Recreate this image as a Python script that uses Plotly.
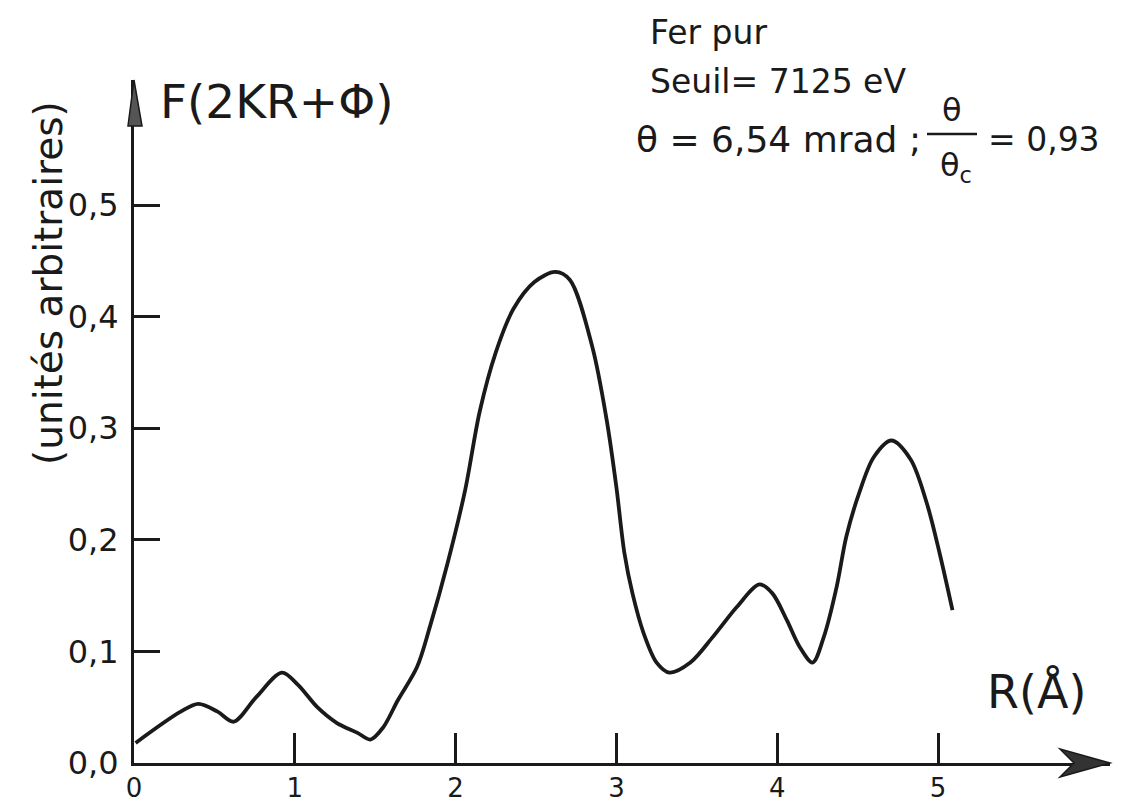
import plotly.graph_objects as go

# Fourier transform modulus of the EXAFS signal, pure iron
r_values = [0.01, 0.29, 0.40, 0.52, 0.62, 0.76, 0.92, 1.02, 1.14, 1.26, 1.39, 1.47,
            1.55, 1.64, 1.76, 1.84, 1.95, 2.06, 2.15, 2.25, 2.36, 2.49, 2.62, 2.71,
            2.85, 2.94, 3.00, 3.05, 3.10, 3.17, 3.25, 3.33, 3.46, 3.60, 3.75, 3.89,
            3.97, 4.06, 4.14, 4.22, 4.29, 4.37, 4.43, 4.51, 4.60, 4.71, 4.83, 4.93,
            5.01, 5.09]
f_values = [0.018, 0.046, 0.053, 0.046, 0.037, 0.059, 0.081, 0.070, 0.050, 0.036, 0.027, 0.021,
            0.032, 0.056, 0.086, 0.122, 0.179, 0.245, 0.315, 0.368, 0.407, 0.431, 0.440, 0.433,
            0.373, 0.307, 0.247, 0.188, 0.152, 0.116, 0.090, 0.081, 0.090, 0.113, 0.140, 0.160,
            0.152, 0.128, 0.104, 0.090, 0.113, 0.158, 0.203, 0.242, 0.274, 0.289, 0.272, 0.233,
            0.188, 0.137]

x_ticks = [0, 1, 2, 3, 4, 5]
x_tick_text = ["0", "1", "2", "3", "4", "5"]
y_ticks = [0.0, 0.1, 0.2, 0.3, 0.4, 0.5]
y_tick_text = ["0,0", "0,1", "0,2", "0,3", "0,4", "0,5"]

FONT = "DejaVu Sans"
INK = "#1a1a1a"

# plot area in pixels (left, right, top, bottom) and the page size
L, R, T, B = 134, 1110, 80, 763
W, H = 1130, 805

# axis scale: 160.8 px per Å, 1116 px per unit of F
X_MAX = (R - L) / 160.8
Y_MAX = (B - T) / 1116.0


def px(x):
    return (x - L) / (R - L)


def py(y):
    return (B - y) / (B - T)


fig = go.Figure()
fig.add_trace(go.Scatter(
    x=r_values, y=f_values, mode="lines",
    line=dict(color=INK, width=3.8, shape="spline", smoothing=0.9),
    hoverinfo="skip", showlegend=False,
))

axis_common = dict(
    showgrid=False, zeroline=False, showline=True, linecolor=INK, linewidth=3,
    ticks="inside", tickcolor=INK, tickwidth=3,
)
fig.update_xaxes(range=[0, X_MAX], tickvals=x_ticks, ticktext=x_tick_text,
                 ticklen=30, ticklabelstandoff=0,
                 tickfont=dict(family=FONT, size=26, color=INK), **axis_common)
fig.update_yaxes(range=[0, Y_MAX], tickvals=y_ticks, ticktext=y_tick_text,
                 ticklen=26, ticklabelstandoff=6,
                 tickfont=dict(family=FONT, size=32, color=INK), **axis_common)


def label(text, x, y, size, xanchor="left", angle=0):
    return dict(x=px(x), y=py(y), xref="paper", yref="paper", text=text,
                showarrow=False, xanchor=xanchor, yanchor="middle", textangle=angle,
                font=dict(family=FONT, size=size, color=INK))


annotations = [
    # axis titles
    label("F(2KR+Φ)", 158, 102, 47),
    label("R(Å)", 1088, 692, 46, xanchor="right"),
    label("(unités arbitraires)", 48, 283, 39, xanchor="center", angle=-90),
    # sample information
    label("Fer pur", 648, 32, 33),
    label("Seuil= 7125 eV", 648, 82, 33),
    label("θ = 6,54 mrad ;", 634, 139, 36),
    label("θ", 952, 110, 32, xanchor="center"),
    label("θ<sub>c</sub>", 956, 167, 32, xanchor="center"),
    label("= 0,93", 986, 139, 33),
]


def path(points):
    return "M " + " L ".join(f"{px(x):.5f},{py(y):.5f}" for x, y in points) + " Z"


shapes = [
    # fraction bar of the angle ratio
    dict(type="line", xref="paper", yref="paper", x0=px(927), x1=px(977),
         y0=py(134), y1=py(134), line=dict(color=INK, width=2.5)),
    # barbed arrowhead at the end of the R axis
    dict(type="path", xref="paper", yref="paper",
         path=path([(R, B), (1060, 749), (1074, B), (1060, 777)]),
         fillcolor="#333333", line=dict(color=INK, width=1.5)),
    # narrow arrowhead at the top of the F axis
    dict(type="path", xref="paper", yref="paper",
         path=path([(L, T), (L + 8, T + 46), (L - 6, T + 46)]),
         fillcolor="#555555", line=dict(color=INK, width=1.5)),
]

fig.update_layout(
    width=W, height=H,
    margin=dict(l=L, r=W - R, t=T, b=H - B, autoexpand=False),
    paper_bgcolor="white", plot_bgcolor="white",
    annotations=annotations, shapes=shapes,
    showlegend=False,
)

fig.write_html("out.html")
